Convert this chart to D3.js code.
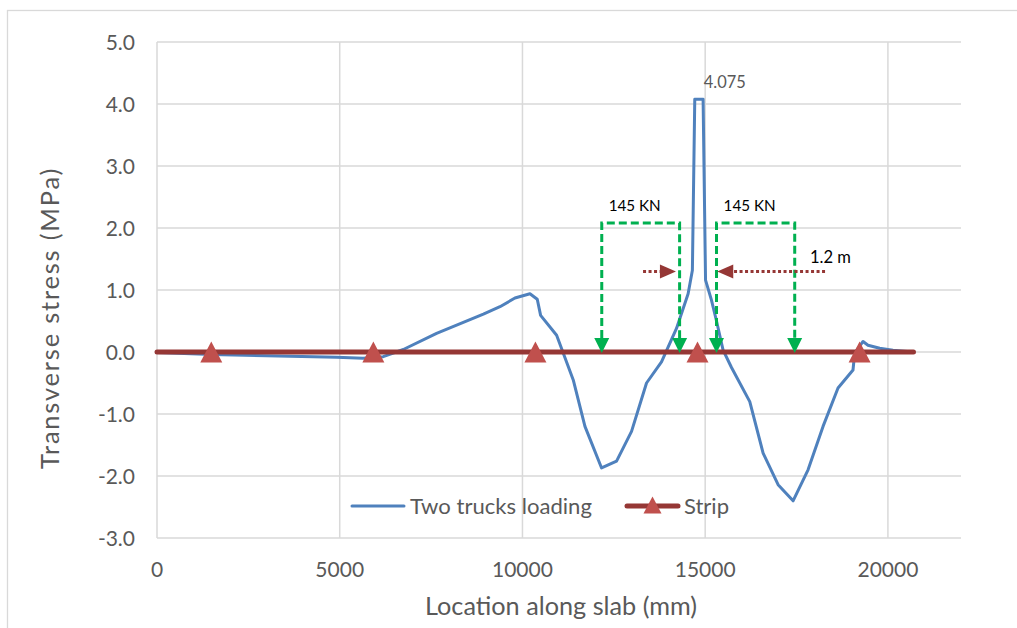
<!DOCTYPE html>
<html>
<head>
<meta charset="utf-8">
<script src="https://cdn.jsdelivr.net/npm/d3@7"></script>
<style>
  html, body { margin: 0; padding: 0; background: #ffffff; }
  svg { display: block; font-family: Lato, "Open Sans", sans-serif; }
</style>
</head>
<body>
<svg id="chart" width="1017" height="628"></svg>
<script>
// ---------------- DATA ----------------
const locationMm = [0, 1485, 3000, 4920, 5640, 6190, 6740, 7650, 8930, 9385, 9795, 10205, 10405, 10497, 10935, 11390, 11710, 12165, 12575, 12985, 13395, 13805, 14215, 14533, 14650, 14715, 14943, 15010, 15170, 15310, 15490, 15720, 16220, 16585, 16995, 17405, 17815, 18225, 18635, 19045, 19090, 19320, 19455, 19775, 20140, 20685];
const twoTrucksStress = [-0.01, -0.04, -0.06, -0.085, -0.10, -0.075, 0.04, 0.30, 0.61, 0.73, 0.87, 0.94, 0.85, 0.59, 0.27, -0.45, -1.20, -1.87, -1.76, -1.28, -0.50, -0.16, 0.38, 0.94, 1.32, 4.075, 4.075, 1.16, 0.84, 0.50, 0.03, -0.25, -0.80, -1.63, -2.14, -2.40, -1.90, -1.20, -0.58, -0.29, -0.02, 0.17, 0.11, 0.06, 0.03, 0.0];
const stripSupportsMm = [1485, 5920, 10355, 14790, 19225];
const stripExtentMm = [0, 20700];
const stripStress = 0;
const seriesNames = ["Two trucks loading", "Strip"];
const xTicks = [0, 5000, 10000, 15000, 20000];
const yTicks = [-3, -2, -1, 0, 1, 2, 3, 4, 5];
const peakLabel = "4.075";
const peakLocationMm = 14715;
const peakStress = 4.075;
// wheel load annotation (data coordinates)
const wheelLoadLabels = ["145 KN", "145 KN"];
const wheelLoadFromMm = [12170, 15310];
const wheelLoadToMm = [14300, 17450];
const wheelLoadTopStress = 2.08;
const spacingLabel = "1.2 m";
const spacingArrowTailMm = [13300, 18280];
const spacingArrowTipMm = [14200, 15330];
const spacingArrowStress = 1.3;
const xTitle = "Location along slab (mm)";
const yTitle = "Transverse stress (MPa)";

// ---------------- LAYOUT ----------------
const svg = d3.select("#chart");
const plot = { left: 157, right: 961, top: 42, bottom: 538 };

const x = d3.scaleLinear().domain([0, 22000]).range([plot.left, plot.right]);
const y = d3.scaleLinear().domain([-3, 5]).range([plot.bottom, plot.top]);

const gridColor = "#d9d9d9";
const textColor = "#595959";
const blue = "#4f81bd";
const darkRed = "#953735";
const markerRed = "#c0504d";
const green = "#00b050";

// scale a text's font so that it spans the wanted width
function fit(sel, width) {
  const n = sel.node();
  const fs = parseFloat(sel.attr("font-size"));
  const w = n.getComputedTextLength();
  if (w > 0) sel.attr("font-size", (fs * width / w).toFixed(2));
  return sel;
}
// keep the font size, spread letters to span the wanted width
function spread(sel, width) {
  const n = sel.node();
  const w = n.getComputedTextLength();
  const k = sel.text().length;
  if (w > 0 && k > 1) sel.attr("letter-spacing", ((width - w) / k).toFixed(2));
  return sel;
}

// chart border
svg.append("rect").attr("x", 7.5).attr("y", 10.5).attr("width", 1020).attr("height", 630)
  .attr("fill", "#fff").attr("stroke", gridColor).attr("stroke-width", 1.3);

// gridlines
const g = svg.append("g");
g.selectAll("line.hg").data(yTicks).enter().append("line")
  .attr("x1", plot.left).attr("x2", plot.right)
  .attr("y1", d => y(d)).attr("y2", d => y(d))
  .attr("stroke", gridColor).attr("stroke-width", 1.5);
g.selectAll("line.vg").data(xTicks).enter().append("line")
  .attr("x1", d => x(d)).attr("x2", d => x(d))
  .attr("y1", plot.top).attr("y2", plot.bottom)
  .attr("stroke", gridColor).attr("stroke-width", 1.5);

// tick labels
const fmtY = d => d3.format(".1f")(d).replace("\u2212", "-");
svg.selectAll("text.yt").data(yTicks).enter().append("text")
  .attr("x", 135).attr("y", d => y(d) + 7.5)
  .attr("text-anchor", "end").attr("font-size", 21).attr("fill", textColor)
  .text(fmtY);
svg.selectAll("text.xt").data(xTicks).enter().append("text")
  .attr("x", d => x(d)).attr("y", 577)
  .attr("text-anchor", "middle").attr("font-size", 21).attr("fill", textColor)
  .text(d => String(d));

// axis titles
fit(svg.append("text").attr("x", 561).attr("y", 615).attr("text-anchor", "middle")
  .attr("font-size", 23).attr("fill", textColor).text(xTitle), 272);
spread(svg.append("text").attr("transform", "translate(58.5,318) rotate(-90)").attr("text-anchor", "middle")
  .attr("font-size", 25.5).attr("fill", textColor).text(yTitle), 302);

// ---------------- SERIES ----------------
const pts = locationMm.map((d, i) => [d, twoTrucksStress[i]]);
const line = d3.line().x(d => x(d[0])).y(d => y(d[1]));
svg.append("path").datum(pts).attr("d", line)
  .attr("fill", "none").attr("stroke", blue).attr("stroke-width", 3)
  .attr("stroke-linejoin", "round");

const stripPts = [stripExtentMm[0], ...stripSupportsMm, stripExtentMm[1]].map(d => [d, stripStress]);
svg.append("path").datum(stripPts).attr("d", line)
  .attr("fill", "none").attr("stroke", darkRed).attr("stroke-width", 5)
  .attr("stroke-linecap", "round");

const tri = (cx, cy, w, h) => `M${cx},${cy - h / 2} L${cx + w / 2},${cy + h / 2} L${cx - w / 2},${cy + h / 2} Z`;
svg.selectAll("path.mk").data(stripSupportsMm).enter().append("path")
  .attr("d", d => tri(x(d), y(stripStress), 22, 21))
  .attr("fill", markerRed);

// peak label
fit(svg.append("text").attr("x", x(peakLocationMm) + 9).attr("y", y(peakStress) - 11.5)
  .attr("font-size", 17).attr("fill", textColor).text(peakLabel), 42);

// ---------------- ANNOTATIONS ----------------
const ann = svg.append("g");
const y0 = y(0) + 1;
const yTop = y(wheelLoadTopStress);
const ah = 15;
wheelLoadFromMm.forEach((from, i) => {
  const x1 = x(from), x2 = x(wheelLoadToMm[i]);
  ann.append("path")
    .attr("d", `M${x1},${y0 - ah} V${yTop} H${x2} V${y0 - ah}`)
    .attr("fill", "none").attr("stroke", green).attr("stroke-width", 3)
    .attr("stroke-dasharray", "8,4");
  [x1, x2].forEach(xx => {
    ann.append("path").attr("d", `M${xx - 7.5},${y0 - ah} L${xx + 7.5},${y0 - ah} L${xx},${y0} Z`)
      .attr("fill", green);
  });
  fit(ann.append("text").attr("x", (x1 + x2) / 2 - 6).attr("y", yTop - 12)
    .attr("text-anchor", "middle").attr("font-size", 16).attr("fill", "#000")
    .text(wheelLoadLabels[i]), 52);
});

const ya = y(spacingArrowStress);
spacingArrowTailMm.forEach((tail, i) => {
  const xt = x(tail), xh = x(spacingArrowTipMm[i]);
  const dir = xh > xt ? 1 : -1;
  const base = xh - dir * 16;
  ann.append("line").attr("x1", xt).attr("x2", base).attr("y1", ya).attr("y2", ya)
    .attr("stroke", darkRed).attr("stroke-width", 3).attr("stroke-dasharray", "3,2.5");
  ann.append("path").attr("d", `M${base},${ya - 7} L${xh},${ya} L${base},${ya + 7} Z`)
    .attr("fill", darkRed);
});
fit(ann.append("text").attr("x", 810).attr("y", 263).attr("font-size", 16)
  .attr("fill", "#000").text(spacingLabel), 41);

// ---------------- LEGEND ----------------
const leg = svg.append("g");
const ly = 506;
leg.append("line").attr("x1", 352).attr("x2", 404).attr("y1", ly).attr("y2", ly)
  .attr("stroke", blue).attr("stroke-width", 3).attr("stroke-linecap", "round");
fit(leg.append("text").attr("x", 410).attr("y", ly + 8).attr("font-size", 21).attr("fill", textColor).text(seriesNames[0]), 182);
leg.append("line").attr("x1", 627).attr("x2", 678).attr("y1", ly).attr("y2", ly)
  .attr("stroke", darkRed).attr("stroke-width", 5).attr("stroke-linecap", "round");
leg.append("path").attr("d", tri(652.5, ly - 1, 18, 17)).attr("fill", markerRed);
fit(leg.append("text").attr("x", 684).attr("y", ly + 8).attr("font-size", 21).attr("fill", textColor).text(seriesNames[1]), 45);
</script>
</body>
</html>
